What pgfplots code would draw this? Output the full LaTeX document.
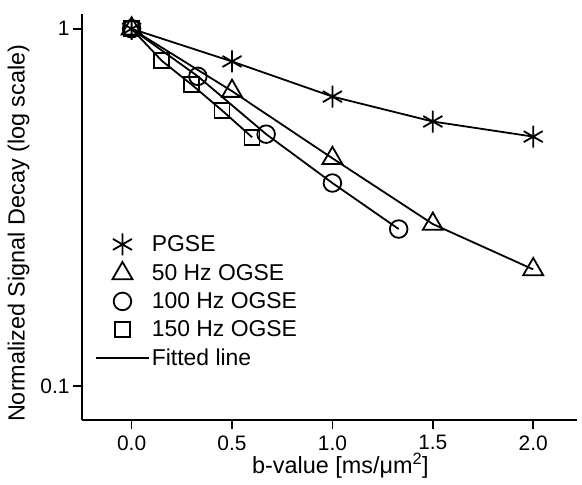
\documentclass[border=0pt]{standalone}
\usepackage{fontspec}
\setmainfont{Liberation Sans}
\usepackage{pgfplots}
\pgfplotsset{compat=1.18}
\pgfplotsset{markleg/.style={legend image code/.code={\draw[##1] plot coordinates {(26.5bp,0bp)};}}}

\begin{document}
\begin{tikzpicture}
\path[use as bounding box] (0,0) rectangle (582bp,485bp);
\begin{axis}[
    at={(82bp,65bp)}, anchor=south west,
    scale only axis,
    width=495bp, height=406bp,
    ymode=log,
    xmin=-0.247, xmax=2.218,
    ymin=0.0803, ymax=1.10,
    axis x line=bottom, axis y line=left,
    axis line style={-, line width=1.7bp},
    tick align=outside,
    major tick length=9bp,
    minor tick length=0pt,
    tick style={line width=1.7bp, black},
    xtick={0,0.5,1,1.5,2},
    xticklabels={0.0,0.5,1.0,1.5,2.0},
    ytick={0.1,1},
    yticklabels={0.1,1},
    tick label style={font=\fontsize{21}{25}\selectfont},
    xticklabel style={yshift=-3bp},
    every axis x label/.style={at={(axis description cs:0.522,0)}, yshift=-46bp, anchor=center},
    every axis y label/.style={at={(axis description cs:-0.128,0.46)}, rotate=90, anchor=center},
    label style={font=\fontsize{23.5}{28}\selectfont},
    xlabel={b-value [ms/μm\textsuperscript{2}]},
    ylabel={Normalized Signal Decay (log scale)},
    clip=false,
    legend cell align=left,
    legend style={draw=none, fill=none, at={(axis description cs:0.026,0.46)}, anchor=north west,
        font=\fontsize{23}{27}\selectfont, row sep=6.5bp, inner sep=0pt},
    legend image code/.code={\draw[#1] (0bp,0bp) -- (53bp,0bp);},
    every axis plot/.append style={black, line width=1.8bp},
]
\addplot[mark=asterisk, mark size=11bp, markleg]
    coordinates {(0,1) (0.5,0.81) (1,0.646) (1.5,0.55) (2,0.499)};
\addlegendentry{PGSE}
\addplot[mark=triangle, mark size=11.5bp, markleg]
    coordinates {(0,1) (0.5,0.669) (1,0.434) (1.5,0.284) (2,0.212)};
\addlegendentry{50 Hz OGSE}
\addplot[mark=o, mark size=8.8bp, markleg]
    coordinates {(0,1) (0.33,0.736) (0.67,0.507) (1,0.370) (1.33,0.275)};
\addlegendentry{100 Hz OGSE}
\addplot[mark=square, mark size=7.5bp, markleg]
    coordinates {(0,1) (0.15,0.814) (0.3,0.697) (0.45,0.591) (0.6,0.497)};
\addlegendentry{150 Hz OGSE}
\addlegendimage{black, line width=1.8bp}
\addlegendentry{Fitted line}
\end{axis}
\end{tikzpicture}
\end{document}
